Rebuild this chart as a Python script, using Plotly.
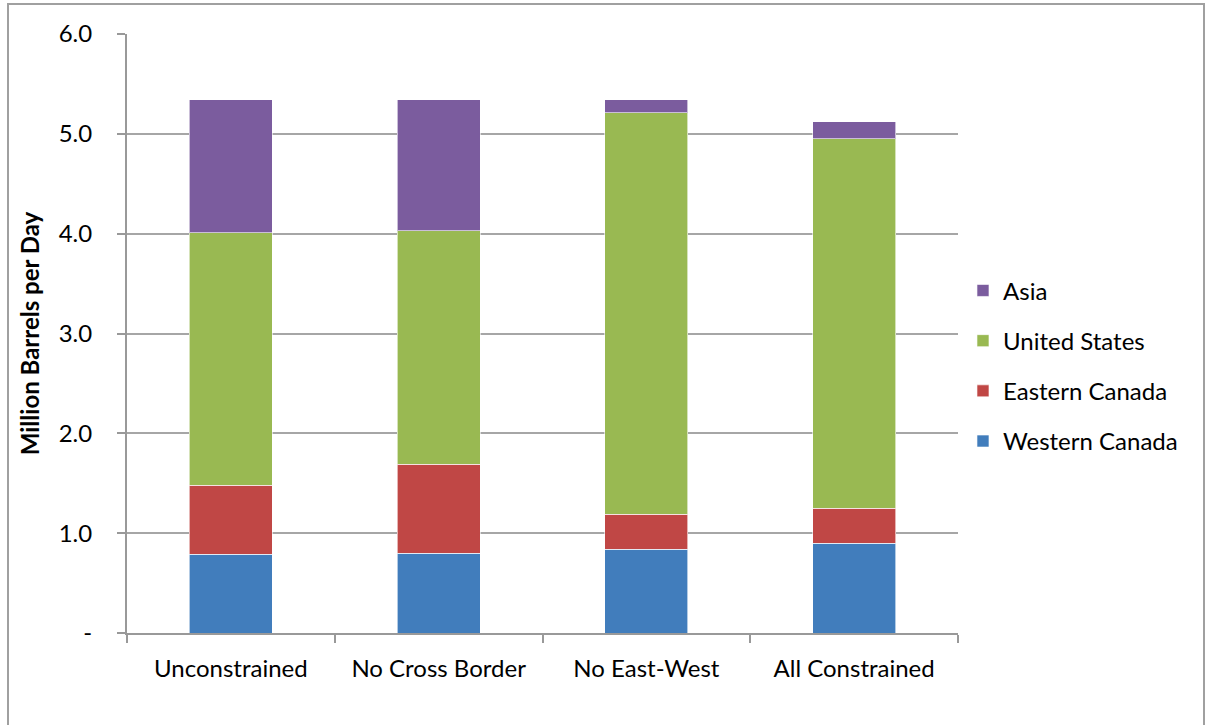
import plotly.graph_objects as go

scenarios = ["Unconstrained", "No Cross Border", "No East-West", "All Constrained"]
western_canada = [0.79, 0.80, 0.84, 0.90]
eastern_canada = [0.69, 0.89, 0.35, 0.35]
united_states = [2.53, 2.34, 4.02, 3.70]
asia = [1.33, 1.31, 0.13, 0.17]

y_ticks = [0, 1, 2, 3, 4, 5, 6]
y_tick_labels = ["-", "1.0", "2.0", "3.0", "4.0", "5.0", "6.0"]

# stacked bottom to top; legend lists them top to bottom
series = [
    ("Western Canada", western_canada, "#417DBC"),
    ("Eastern Canada", eastern_canada, "#C04745"),
    ("United States", united_states, "#99B952"),
    ("Asia", asia, "#7B5C9E"),
]

font_family = "Lato, 'Open Sans', sans-serif"

fig = go.Figure()
for i, (name, vals, color) in enumerate(series):
    fig.add_trace(go.Bar(
        x=scenarios, y=vals, name=name, legendgroup=name,
        legendrank=1000 - i,
        marker=dict(color=color, line=dict(color="rgba(255,255,255,0.6)", width=1)),
    ))

fig.update_layout(
    barmode="stack",
    bargap=0.6,
    width=1207, height=725,
    margin=dict(l=127, r=249, t=34, b=92),
    paper_bgcolor="white", plot_bgcolor="white",
    font=dict(family=font_family, size=24, color="black"),
    legend=dict(
        traceorder="grouped", tracegroupgap=16,
        x=1.006, xanchor="left", y=0.446, yanchor="middle",
        font=dict(size=24), itemwidth=30,
    ),
    xaxis=dict(
        showline=True, linecolor="#999999", linewidth=2,
        ticks="outside", tickson="boundaries", ticklen=8, tickcolor="#999999", tickwidth=2,
        tickfont=dict(size=24), showgrid=False, ticklabelstandoff=13,
    ),
    yaxis=dict(
        range=[0, 6], tickvals=y_ticks, ticktext=y_tick_labels,
        showline=True, linecolor="#999999", linewidth=2,
        ticks="outside", ticklen=8, tickcolor="#999999", tickwidth=2,
        showgrid=True, gridcolor="#a6a6a6", gridwidth=2,
        tickfont=dict(size=24), ticklabelstandoff=20,
        title=dict(text="Million Barrels per Day",
                   font=dict(size=24, family=font_family, weight="bold"), standoff=12),
        zeroline=False,
    ),
    shapes=[dict(
        type="rect", xref="paper", yref="paper",
        x0=-119 / 831, x1=1077 / 831, y0=-140 / 599, y1=629 / 599,
        line=dict(color="#a0a0a0", width=2), fillcolor="rgba(0,0,0,0)", layer="below",
    )],
)

fig.write_html("out.html")
